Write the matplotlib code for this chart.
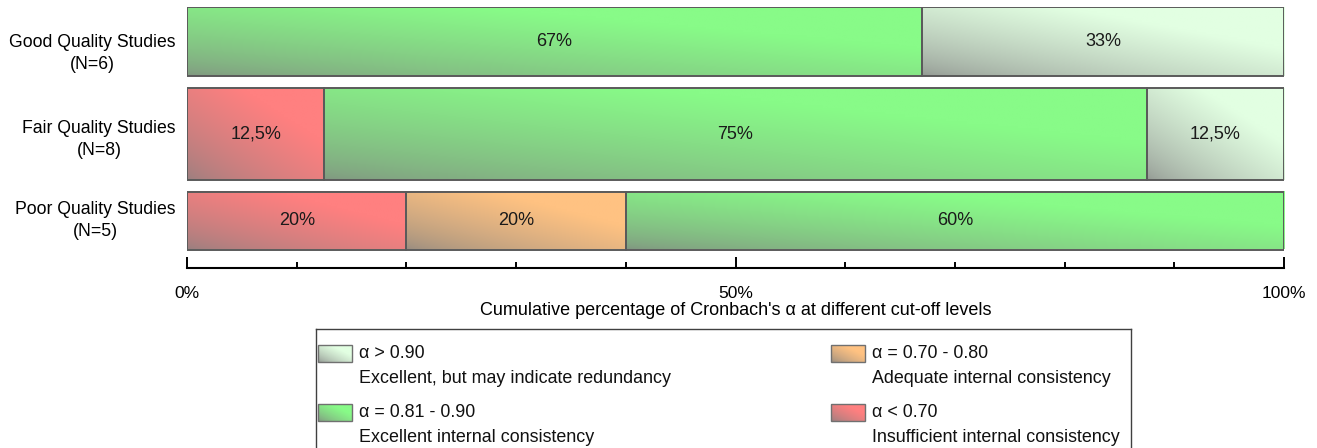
import matplotlib
import matplotlib.pyplot as plt
import numpy as np
from matplotlib.colors import to_rgb
from matplotlib.ticker import MultipleLocator

matplotlib.use("Agg")
plt.rcParams["font.family"] = ["Liberation Sans", "DejaVu Sans"]

GROUPS = ["Good Quality Studies\n(N=6)", "Fair Quality Studies\n(N=8)", "Poor Quality Studies\n(N=5)"]
N_STUDIES = [6, 8, 5]

LEVELS = ["α < 0.70", "α = 0.70 - 0.80", "α = 0.81 - 0.90", "α > 0.90"]
LEVEL_DESC = [
    "Insufficient internal consistency",
    "Adequate internal consistency",
    "Excellent internal consistency",
    "Excellent, but may indicate redundancy",
]
LEVEL_COLORS = ["#FF8080", "#FFC282", "#88FB88", "#E2FFE2"]

PCT_BELOW_070 = [0, 12.5, 20]
PCT_070_080 = [0, 0, 20]
PCT_081_090 = [67, 75, 60]
PCT_ABOVE_090 = [33, 12.5, 0]

X_TICKS = [0, 50, 100]
X_TICK_LABELS = ["0%", "50%", "100%"]

FS = 12.5
W, H = 1317, 448


def gradient(color, nx=80, ny=40):
    # dark grey corner at bottom-left, full colour at top-right
    base = np.array(to_rgb(color))
    dark = 0.2 * base + 0.8 * 0.5
    u = np.linspace(0, 1, nx)[None, :]
    v = np.linspace(0, 1, ny)[:, None]
    t = np.clip((u + v) / 2 / 0.7, 0, 1) ** 0.7
    return dark + (base - dark) * t[..., None]


def pct_label(v):
    if float(v).is_integer():
        return f"{int(v)}%"
    return f"{v}".replace(".", ",") + "%"


fig = plt.figure(figsize=(W / 100, H / 100), dpi=100)
fig.patch.set_facecolor("white")

unit = 11.5  # px per study, bar height scales with N
gap = 12
heights = np.array(N_STUDIES) * unit
tops = np.concatenate([[0], np.cumsum(heights + gap)[:-1]])
centers = tops + heights / 2

ax = fig.add_axes([187 / W, 1 - 268 / H, 1097 / W, 261 / H])

series = [PCT_BELOW_070, PCT_070_080, PCT_081_090, PCT_ABOVE_090]
lefts = np.zeros(len(GROUPS))
for vals, color in zip(series, LEVEL_COLORS):
    for i, val in enumerate(vals):
        if val <= 0:
            continue
        bar = ax.barh(centers[i], val, left=lefts[i], height=heights[i],
                      color="none", edgecolor="#5a5a5a", linewidth=1.4, zorder=3)[0]
        x0, y0 = bar.get_x(), bar.get_y()
        ax.imshow(gradient(color), origin="lower", aspect="auto", interpolation="bilinear",
                  extent=(x0, x0 + bar.get_width(), y0 + bar.get_height(), y0), zorder=2)
        ax.text(x0 + val / 2, centers[i], pct_label(val), ha="center", va="center",
                fontsize=13, color="#1a1a1a", zorder=4)
    lefts += np.array(vals)

ax.set_xlim(0, 100)
ax.set_ylim(261, 0)
for side in ["left", "top", "right"]:
    ax.spines[side].set_visible(False)
ax.spines["bottom"].set_linewidth(1.5)
ax.spines["bottom"].set_color("black")

ax.set_xticks(X_TICKS, X_TICK_LABELS)
ax.xaxis.set_minor_locator(MultipleLocator(10))
ax.tick_params(axis="x", which="major", direction="in", length=8, width=1.4, pad=13, labelsize=FS)
ax.tick_params(axis="x", which="minor", direction="in", length=4.5, width=1.4)

# group labels sit a little off the bar centres in the original
ax.set_yticks(centers + np.array([7, 1, -4.5]), GROUPS)
ax.tick_params(axis="y", length=0, pad=8, labelsize=12.7)
for lab in ax.get_yticklabels():
    lab.set_multialignment("center")
    lab.set_linespacing(1.4)
ax.set_xlabel("Cumulative percentage of Cronbach's α at different cut-off levels", fontsize=13, labelpad=1)

# legend box, cut off at the bottom of the figure
lax = fig.add_axes([316 / W, -45 / H, (1131 - 316) / W, (448 - 329 + 45) / H])
lax.set_xticks([])
lax.set_yticks([])
for sp in lax.spines.values():
    sp.set_color("#404040")
    sp.set_linewidth(1.0)

slots = {3: (2, 16), 2: (2, 75), 1: (515, 16), 0: (515, 75)}
for k, (sx, sy) in slots.items():
    lax.imshow(gradient(LEVEL_COLORS[k], 30, 15), origin="lower", aspect="auto",
               extent=(sx, sx + 34, sy + 17, sy), interpolation="bilinear")
    lax.add_patch(plt.Rectangle((sx, sy), 34, 17, fill=False, edgecolor="#707070", linewidth=1.0))
    lax.text(sx + 41, sy + 8.5, LEVELS[k], ha="left", va="center", fontsize=12.9, color="#111111")
    lax.text(sx + 41, sy + 33, LEVEL_DESC[k], ha="left", va="center", fontsize=12.9, color="#111111")
lax.set_xlim(0, 815)
lax.set_ylim(448 - 329 + 45, 0)

fig.savefig("out.png", dpi=100)
